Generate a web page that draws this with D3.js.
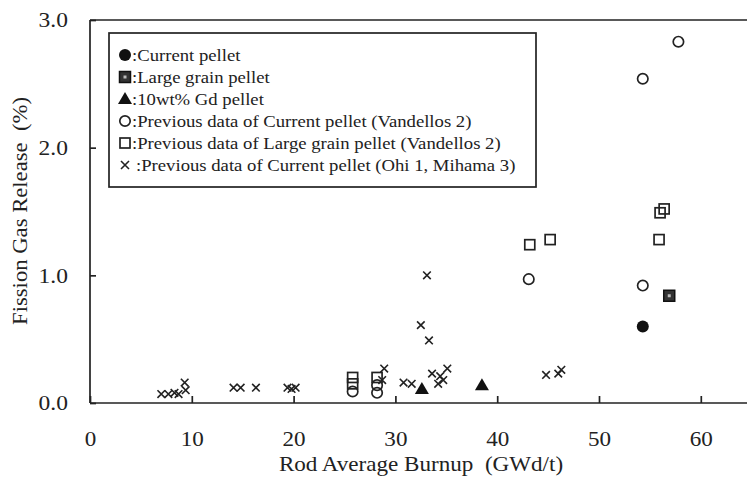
<!DOCTYPE html>
<html>
<head>
<meta charset="utf-8">
<script src="https://cdn.jsdelivr.net/npm/d3@7"></script>
<style>
  html, body { margin: 0; padding: 0; background: #fff; }
  svg { display: block; }
  text { font-family: "Liberation Serif", "Times New Roman", serif; fill: #222; }
</style>
</head>
<body>
<svg id="chart" width="747" height="479"></svg>
<script>
// Fission gas release vs rod average burnup, [burnup GWd/t, FGR %]
const currentPellet = [[54.3, 0.60]];
const largeGrainPellet = [[56.9, 0.84]];
const gdPellet = [[38.5, 0.14], [32.6, 0.11]];
const prevCurrentVandellos = [
  [43.1, 0.97], [54.3, 0.92], [54.3, 2.54], [57.8, 2.83],
  [25.8, 0.09], [28.2, 0.14], [28.2, 0.08]
];
const prevLargeGrainVandellos = [
  [43.2, 1.24], [45.2, 1.28], [55.9, 1.28], [56.0, 1.49], [56.4, 1.52],
  [25.8, 0.20], [25.8, 0.15], [28.2, 0.20]
];
const prevOhiMihama = [
  [7.0, 0.07], [7.7, 0.07], [8.3, 0.08], [8.7, 0.07], [9.3, 0.16], [9.4, 0.10],
  [14.1, 0.12], [14.8, 0.12], [16.3, 0.12], [19.4, 0.12], [19.8, 0.11], [20.2, 0.12],
  [28.9, 0.27], [28.7, 0.18], [30.8, 0.16], [31.6, 0.15], [32.5, 0.61], [33.1, 1.00],
  [33.3, 0.49], [33.6, 0.23], [34.2, 0.15], [34.4, 0.21], [34.7, 0.18], [35.1, 0.27],
  [44.8, 0.22], [46.0, 0.23], [46.3, 0.26]
];

const xTicks = [0, 10, 20, 30, 40, 50, 60];
const yTicks = [0, 1, 2, 3];
const legendLabels = [
  ":Current pellet",
  ":Large grain pellet",
  ":10wt% Gd pellet",
  ":Previous data of Current pellet (Vandellos 2)",
  ":Previous data of Large grain pellet (Vandellos 2)",
  ":Previous data of Current pellet (Ohi 1, Mihama 3)"
];
const xTitle = "Rod Average Burnup\u00a0\u00a0(GWd/t)";
const yTitle = "Fission Gas Release\u00a0\u00a0(%)";

const ink = "#222";
const svg = d3.select("#chart");

const x = d3.scaleLinear().domain([0, 70]).range([90, 802.6]);
const y = d3.scaleLinear().domain([0, 3]).range([403, 20]);

// frame (open on the right, runs past the edge)
const frame = svg.append("g").attr("fill", "none").attr("stroke", ink).attr("stroke-width", 1.7);
frame.append("line").attr("x1", x(0)).attr("x2", 760).attr("y1", y(3)).attr("y2", y(3));
frame.append("line").attr("x1", x(0)).attr("x2", 760).attr("y1", y(0)).attr("y2", y(0));
frame.append("line").attr("x1", x(0)).attr("x2", x(0)).attr("y1", y(3)).attr("y2", y(0));

// axes with inward ticks
const xAxis = svg.append("g")
  .attr("transform", `translate(0,${y(0)})`)
  .call(d3.axisBottom(x).tickValues(xTicks).tickSize(-7).tickFormat(d3.format("d")));
const yAxis = svg.append("g")
  .attr("transform", `translate(${x(0)},0)`)
  .call(d3.axisLeft(y).tickValues(yTicks).tickSize(-6).tickFormat(d3.format(".1f")));
[xAxis, yAxis].forEach(g => {
  g.select(".domain").remove();
  g.selectAll(".tick line").attr("stroke", ink).attr("stroke-width", 1.7);
  g.selectAll(".tick text").attr("font-size", 21).attr("fill", ink)
    .style("font-family", '"Liberation Serif", serif');
});
// serif numerals, slightly widened
xAxis.selectAll(".tick text").attr("y", 0).attr("dy", 0)
  .attr("transform", "translate(0,43) scale(1.1,1)");
yAxis.selectAll(".tick text").attr("x", 0)
  .attr("transform", "translate(-22,0) scale(1.12,1)");

// axis titles
svg.append("text").attr("transform", "translate(421,471) scale(1.1,1)").attr("text-anchor", "middle")
  .attr("font-size", 21).text(xTitle);
svg.append("text").attr("transform", "translate(27,211) rotate(-90) scale(1.08,1)")
  .attr("text-anchor", "middle").attr("font-size", 21).text(yTitle);

// marker painters
function cross(g, cx, cy, s) {
  g.append("path")
    .attr("d", `M${cx - s},${cy - s}L${cx + s},${cy + s}M${cx - s},${cy + s}L${cx + s},${cy - s}`)
    .attr("stroke", ink).attr("stroke-width", 1.6).attr("fill", "none");
}
function openCircle(g, cx, cy) {
  g.append("circle").attr("cx", cx).attr("cy", cy).attr("r", 5.2)
    .attr("fill", "none").attr("stroke", ink).attr("stroke-width", 1.7);
}
function openSquare(g, cx, cy) {
  g.append("rect").attr("x", cx - 5).attr("y", cy - 5).attr("width", 10).attr("height", 10)
    .attr("fill", "none").attr("stroke", ink).attr("stroke-width", 1.7);
}
function filledCircle(g, cx, cy) {
  g.append("circle").attr("cx", cx).attr("cy", cy).attr("r", 6).attr("fill", "#111");
}
function filledSquare(g, cx, cy) {
  g.append("rect").attr("x", cx - 5.5).attr("y", cy - 5.5).attr("width", 11).attr("height", 11)
    .attr("fill", "#333").attr("stroke", "#111").attr("stroke-width", 1.5);
  g.append("rect").attr("x", cx - 1.5).attr("y", cy - 1.5).attr("width", 3).attr("height", 3).attr("fill", "#bbb");
}
function filledTriangle(g, cx, cy) {
  g.append("path").attr("d", `M${cx},${cy - 7}L${cx + 7},${cy + 5}L${cx - 7},${cy + 5}Z`).attr("fill", "#111");
}

const marks = svg.append("g");
prevOhiMihama.forEach(d => cross(marks, x(d[0]), y(d[1]), 3.8));
prevCurrentVandellos.forEach(d => openCircle(marks, x(d[0]), y(d[1])));
prevLargeGrainVandellos.forEach(d => openSquare(marks, x(d[0]), y(d[1])));
currentPellet.forEach(d => filledCircle(marks, x(d[0]), y(d[1])));
largeGrainPellet.forEach(d => filledSquare(marks, x(d[0]), y(d[1])));
gdPellet.forEach(d => filledTriangle(marks, x(d[0]), y(d[1])));

// legend
const lg = svg.append("g");
lg.append("rect").attr("x", 109).attr("y", 33).attr("width", 427).attr("height", 154)
  .attr("fill", "#fff").attr("stroke", ink).attr("stroke-width", 1.7);
const painters = [filledCircle, filledSquare, filledTriangle, openCircle, openSquare,
  (g, cx, cy) => cross(g, cx, cy, 4)];
legendLabels.forEach((t, i) => {
  const cy = 55 + i * 22;
  painters[i](lg, 125, cy);
  lg.append("text")
    .attr("transform", `translate(${i === 5 ? 136 : 132},${cy + 5.5}) scale(1.1,1)`)
    .attr("font-size", 17).text(t);
});
</script>
</body>
</html>
